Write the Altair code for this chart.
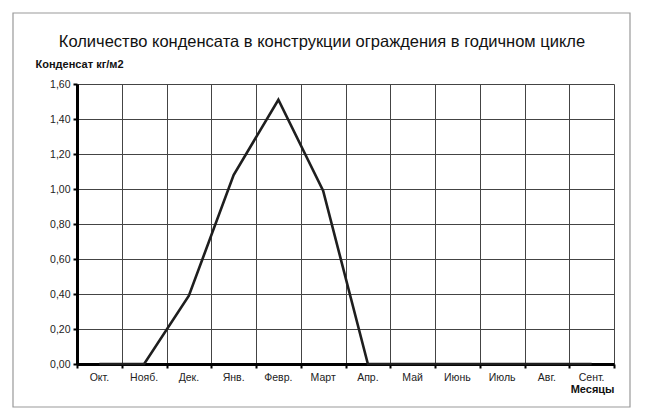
import altair as alt
import pandas as pd

months = ["Окт.", "Нояб.", "Дек.", "Янв.", "Февр.", "Март", "Апр.", "Май", "Июнь", "Июль", "Авг.", "Сент."]
values = [0.0, 0.0, 0.39, 1.08, 1.51, 0.99, 0.0, 0.0, 0.0, 0.0, 0.0, 0.0]
y_ticks = [0.0, 0.2, 0.4, 0.6, 0.8, 1.0, 1.2, 1.4, 1.6]
title_text = "Количество конденсата в конструкции ограждения  в годичном цикле"
y_title = "Конденсат кг/м2"
x_title = "Месяцы"

df = pd.DataFrame({"month": months, "pos": [i + 0.5 for i in range(len(months))], "value": values})

W, H = 537, 280
FONT = "Liberation Sans"

xscale = alt.Scale(domain=[0, 12], nice=False, zero=False)
yscale = alt.Scale(domain=[0, 1.6], nice=False)

base = alt.Chart(df)

line = base.mark_line(color="#1e1e1e", strokeWidth=2.6, clip=False).encode(
    x=alt.X("pos:Q", scale=xscale,
            axis=alt.Axis(values=list(range(13)), labels=False, grid=True, gridColor="#444",
                          gridWidth=1, domainColor="#000", domainWidth=3, tickColor="#000",
                          tickWidth=2, tickSize=4, title=x_title, titleFont=FONT,
                          titleFontSize=11, titleFontWeight="bold", titleColor="#111",
                          titleX=W, titleY=25, titleAlign="right", titleBaseline="middle",
                          titleAnchor="end")),
    y=alt.Y("value:Q", scale=yscale,
            axis=alt.Axis(values=y_ticks, grid=True, gridColor="#444", gridWidth=1,
                          domainColor="#000", domainWidth=3, tickColor="#000", tickWidth=2,
                          tickSize=4, labelFont=FONT, labelFontSize=10.5, labelColor="#222",
                          labelPadding=3,
                          labelExpr="replace(format(datum.value, '.2f'), '.', ',')",
                          title=y_title, titleFont=FONT, titleFontSize=11,
                          titleFontWeight="bold", titleColor="#111", titleAngle=0,
                          titleX=-42, titleY=-20, titleAlign="left", titleBaseline="middle")),
)

xlabels = base.mark_text(font=FONT, fontSize=10.5, color="#222", baseline="middle").encode(
    x=alt.X("pos:Q", scale=xscale),
    y=alt.value(H + 14),
    text="month:N",
)

title_df = pd.DataFrame({"t": [title_text]})
title = alt.Chart(title_df).mark_text(font=FONT, fontSize=16.5, color="#111",
                                      baseline="middle", align="center").encode(
    x=alt.value(245), y=alt.value(-42), text="t:N")

frame = alt.Chart(title_df).mark_rect(fill=None, stroke="#999", strokeWidth=1.2).encode(
    x=alt.value(-64), x2=alt.value(553), y=alt.value(-71), y2=alt.value(323))

chart = alt.layer(frame, line, xlabels, title).properties(
    width=W, height=H,
    autosize=alt.AutoSizeParams(type="none"),
    padding={"left": 69, "top": 76, "right": 24, "bottom": 46},
    background="white",
).configure_view(stroke=None)

chart.save("out.html", embed_options={"renderer": "svg", "actions": False})
